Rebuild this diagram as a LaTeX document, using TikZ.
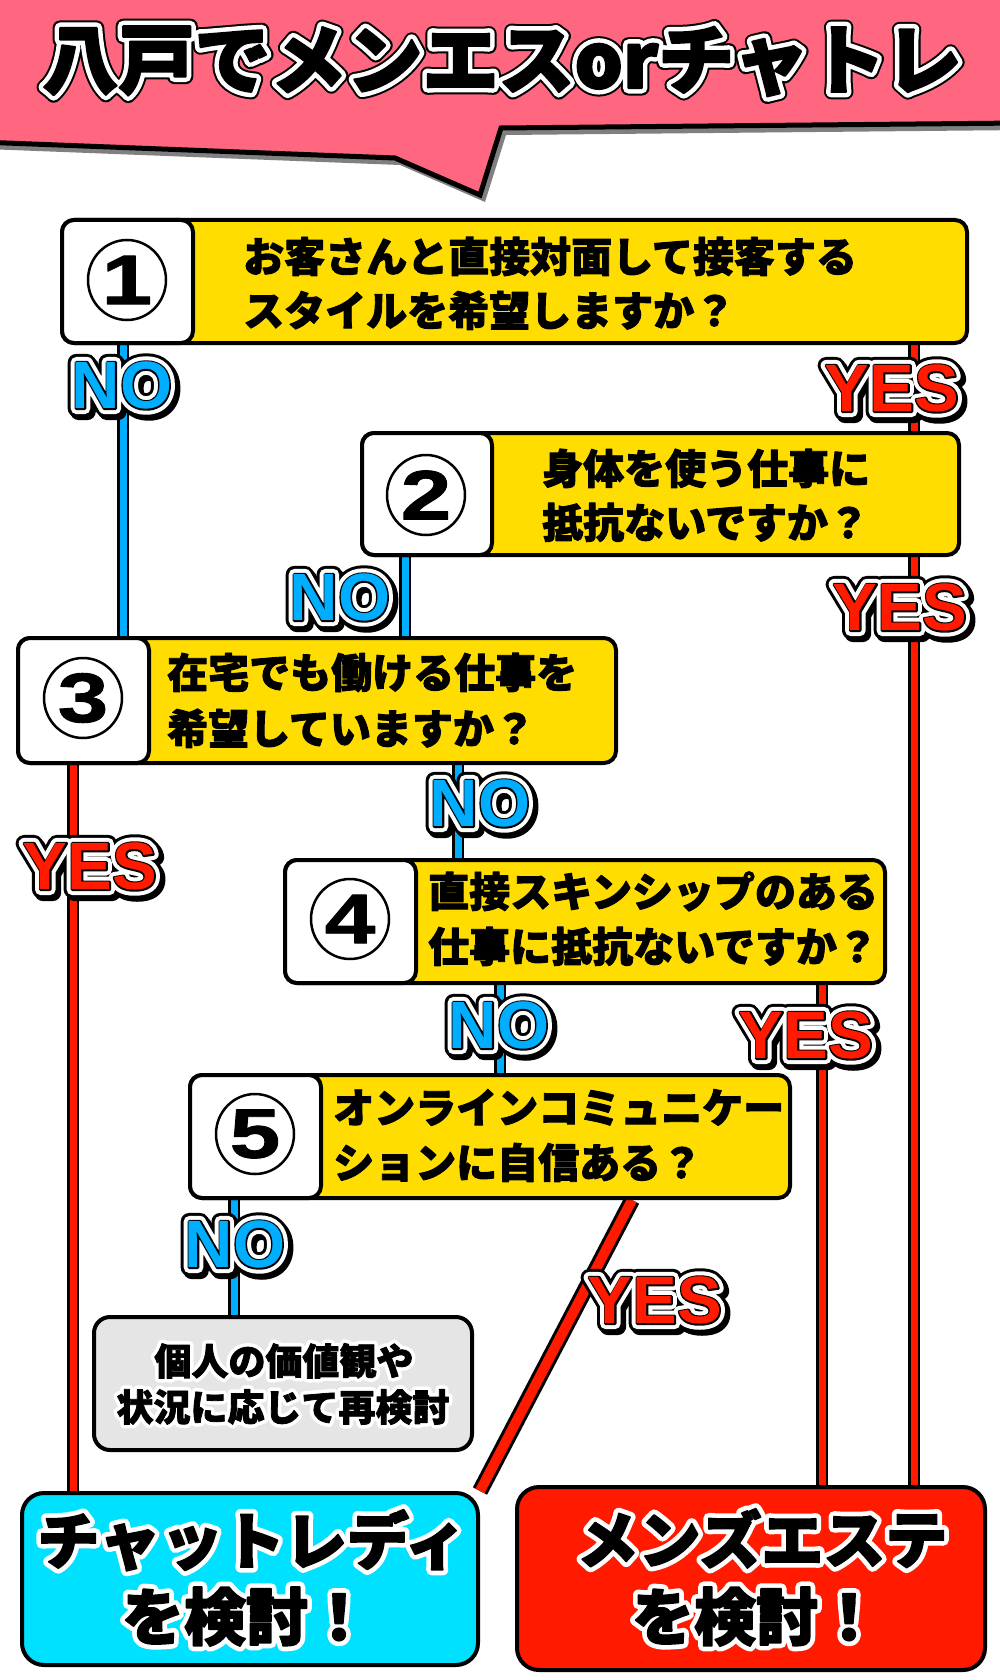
\documentclass[tikz,border=0pt]{standalone}
\usepackage{fontspec}
\newfontfamily\jp{Noto Sans CJK JP}
\newfontfamily\lat{Liberation Sans}
\newfontfamily\dig{Liberation Sans}[FakeStretch=1.3]
\usetikzlibrary{calc,shapes.geometric}
\pgfdeclarelayer{bg}
\pgfsetlayers{bg,main}
\definecolor{bpink}{RGB}{255,102,128}
\definecolor{qyel}{RGB}{255,221,0}
\definecolor{nob}{RGB}{0,174,255}
\definecolor{yesr}{RGB}{255,26,0}
\definecolor{chatc}{RGB}{0,225,255}
\definecolor{mensr}{RGB}{255,26,0}
\definecolor{gbox}{RGB}{229,229,229}
\definecolor{shad}{RGB}{128,128,128}
\makeatletter
\newcommand\strk[3]{\pgfsys@invoke{ 2 Tr #2 w 1 j 1 J }{\color{#1}#3}\pgfsys@invoke{ 0 Tr }}
\makeatother
\newcommand\ynlab[2]{\rlap{\raisebox{-3pt}{\hspace{2.5pt}\strk{black}{17}{#2}}}\rlap{\strk{black}{17}{#2}}\rlap{\strk{white}{11}{#2}}\rlap{\strk{black}{3}{#2}}{\color{#1}#2}}
\newcommand\ttl[1]{\rlap{\strk{black}{15}{#1}}\rlap{\strk{white}{11}{#1}}\strk{black}{2}{#1}}
\newcommand\wout[3]{\rlap{\strk{white}{#1}{#3}}\strk{black}{#2}{#3}}
\newcommand\heavy[1]{\strk{black}{0.9}{#1}}
\begin{document}
\begin{tikzpicture}[x=1pt,y=-1pt,
  qbox/.style={draw=black, line width=4pt, fill=qyel, rounded corners=12pt, inner sep=0pt},
  nbox/.style={draw=black, line width=4pt, fill=white, rounded corners=12pt, inner sep=0pt, minimum height=123},
  numc/.style={ellipse, draw=black, line width=2.5pt, fill=white, inner sep=0pt, minimum width=78, minimum height=80, font=\dig\bfseries\fontsize{70}{70}\selectfont},
  qtext/.style={anchor=base west, inner sep=0pt, font=\jp\bfseries\fontsize{41}{41}\selectfont},
  lab/.style={inner sep=0pt, font=\lat\bfseries\fontsize{67}{67}\selectfont},
  endbox/.style={draw=black, line width=4pt, rounded corners=22pt, inner sep=0pt},
  endtext/.style={anchor=base, inner sep=0pt, font=\jp\bfseries\fontsize{62}{62}\selectfont},
  conn/.style={draw=black, line width=2.5pt, double distance=7pt},
  noline/.style={conn, double=nob},
  yesline/.style={conn, double=yesr},
  yesdiag/.style={draw=black, line width=3pt, double=yesr, double distance=10pt}]
\useasboundingbox (0,0) rectangle (1000,1680);
\begin{pgfonlayer}{bg}
\fill[white] (0,0) rectangle (1000,1680);
\end{pgfonlayer}
% title banner
\begin{scope}[shift={(5,7)}]
\fill[shad] (-20,-20) -- (1020,-20) -- (1020,123) -- (501,128) -- (480,195) -- (395,158) -- (-20,142) -- cycle;
\end{scope}
\filldraw[fill=bpink, draw=black, line width=5pt] (-20,-20) -- (1020,-20) -- (1020,123) -- (501,128) -- (480,195) -- (395,158) -- (-20,142) -- cycle;
\node[anchor=base, inner sep=0pt, font=\jp\bfseries\fontsize{76}{76}\selectfont] (title) at (502,88) {\ttl{八戸でメンエスorチャトレ}};
% question boxes
\node[qbox, minimum width=905, minimum height=123] (q1) at (514.5,281.5) {};
\node[nbox, minimum width=131] (w1) at (127.5,281.5) {};
\node[numc] (c1) at (127,280) {\heavy{1}};
\node[qtext] (t1a) at (243,272) {\heavy{お客さんと直接対面して接客する}};
\node[qtext] (t1b) at (243,326) {\heavy{スタイルを希望しますか？}};

\node[qbox, minimum width=597, minimum height=122] (q2) at (660.5,494) {};
\node[nbox, minimum width=130, minimum height=122] (w2) at (427,494) {};
\node[numc] (c2) at (426,495) {\heavy{2}};
\node[qtext] (t2a) at (542,484) {\heavy{身体を使う仕事に}};
\node[qtext] (t2b) at (542,538) {\heavy{抵抗ないですか？}};

\node[qbox, minimum width=598, minimum height=125] (q3) at (317,700.5) {};
\node[nbox, minimum width=131, minimum height=125] (w3) at (83.5,700.5) {};
\node[numc] (c3) at (83,698) {\heavy{3}};
\node[qtext] (t3a) at (167,688) {\heavy{在宅でも働ける仕事を}};
\node[qtext] (t3b) at (167,744) {\heavy{希望していますか？}};

\node[qbox, minimum width=600, minimum height=123] (q4) at (585,921.5) {};
\node[nbox, minimum width=131] (w4) at (350.5,921.5) {};
\node[numc] (c4) at (350,919) {\heavy{4}};
\node[qtext] (t4a) at (428,907) {\heavy{直接スキンシップのある}};
\node[qtext] (t4b) at (428,962) {\heavy{仕事に抵抗ないですか？}};

\node[qbox, minimum width=600, minimum height=123] (q5) at (490,1136.5) {};
\node[nbox, minimum width=131] (w5) at (255.5,1136.5) {};
\node[numc] (c5) at (255,1134) {\heavy{5}};
\node[qtext] (t5a) at (333,1123) {\heavy{オンラインコミュニケー}};
\node[qtext] (t5b) at (333,1178) {\heavy{ションに自信ある？}};

% result boxes
\node[endbox, fill=gbox, rounded corners=16pt, minimum width=378, minimum height=133] (gray) at (283,1383.5) {};
\node[anchor=base, inner sep=0pt, font=\jp\bfseries\fontsize{37}{37}\selectfont] (g1) at (284,1375) {\wout{8}{0.8}{個人の価値観や}};
\node[anchor=base, inner sep=0pt, font=\jp\bfseries\fontsize{37}{37}\selectfont] (g2) at (283,1421) {\wout{8}{0.8}{状況に応じて再検討}};

\node[endbox, fill=chatc, minimum width=456, minimum height=172] (chat) at (250,1579) {};
\node[endtext] (ch1) at (252,1564) {\wout{11}{1.6}{チャットレディ}};
\node[endtext] (ch2) at (246,1640) {\wout{11}{1.6}{を検討！}};

\node[endbox, fill=mensr, minimum width=468, minimum height=183] (mens) at (751,1578.5) {};
\node[endtext] (me1) at (762,1563) {\wout{11}{1.6}{メンズエステ}};
\node[endtext] (me2) at (756,1640) {\wout{11}{1.6}{を検討！}};

% connectors
\coordinate (xa) at (123,0);
\coordinate (xb) at (914,0);
\coordinate (xc) at (405,0);
\coordinate (xd) at (73,0);
\coordinate (xe) at (458,0);
\coordinate (xf) at (500,0);
\coordinate (xg) at (822,0);
\coordinate (xh) at (234,0);
\coordinate (xi) at (632,0);
\begin{pgfonlayer}{bg}
\draw[noline] (q1.south -| xa) -- (q3.north -| xa);
\draw[yesline] (q1.south -| xb) -- (q2.north -| xb);
\draw[yesline] (q2.south -| xb) -- (mens.north -| xb);
\draw[noline] (q2.south -| xc) -- (q3.north -| xc);
\draw[yesline] (q3.south -| xd) -- (chat.north -| xd);
\draw[noline] (q3.south -| xe) -- (q4.north -| xe);
\draw[noline] (q4.south -| xf) -- (q5.north -| xf);
\draw[yesline] (q4.south -| xg) -- (mens.north -| xg);
\draw[noline] (q5.south -| xh) -- (gray.north -| xh);
\draw[yesdiag] (q5.south -| xi) -- (chat.north east);
\end{pgfonlayer}
% labels
\node[lab] (no1) at (122,387) {\ynlab{nob}{NO}};
\node[lab] (yes1) at (892,390) {\ynlab{yesr}{YES}};
\node[lab] (no2) at (340,599) {\ynlab{nob}{NO}};
\node[lab] (yes2) at (900,609) {\ynlab{yesr}{YES}};
\node[lab] (no3) at (480,805) {\ynlab{nob}{NO}};
\node[lab] (yes3) at (90,868) {\ynlab{yesr}{YES}};
\node[lab] (no4) at (499,1027) {\ynlab{nob}{NO}};
\node[lab] (yes4) at (806,1037) {\ynlab{yesr}{YES}};
\node[lab] (no5) at (235,1246) {\ynlab{nob}{NO}};
\node[lab] (yes5) at (655,1302) {\ynlab{yesr}{YES}};
\end{tikzpicture}
\end{document}
